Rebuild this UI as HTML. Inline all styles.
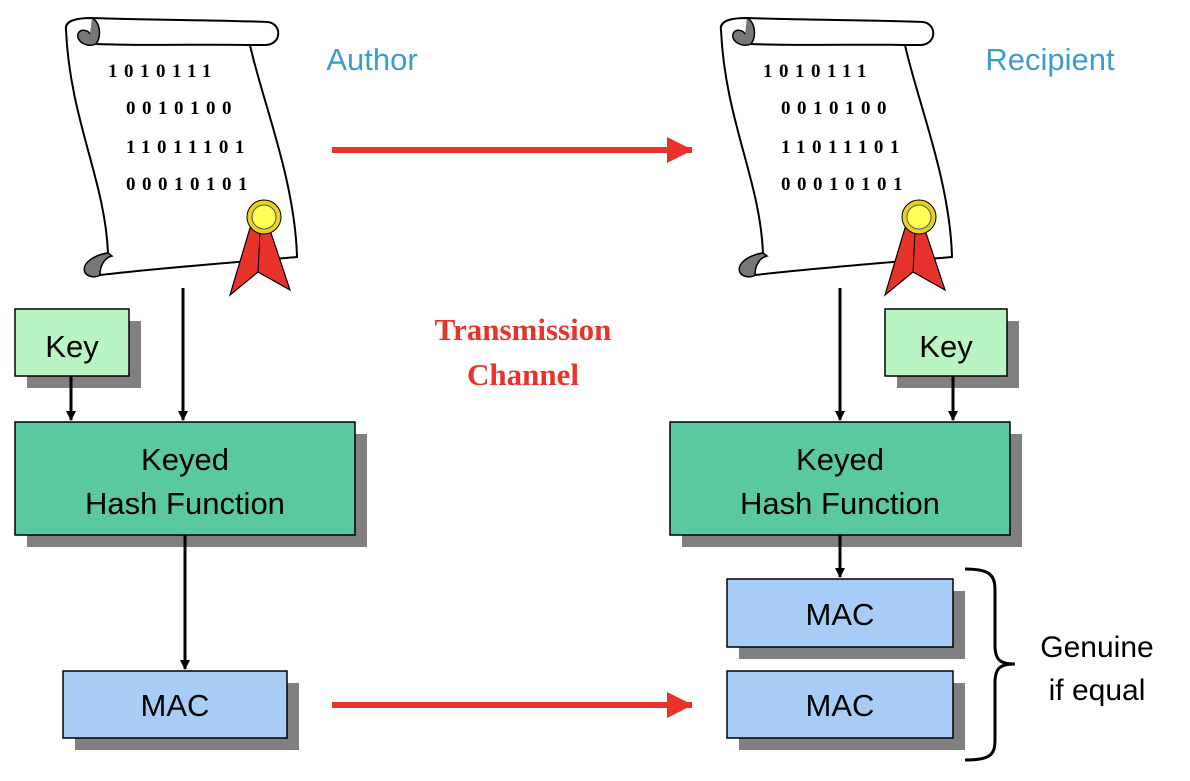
<!DOCTYPE html>
<html><head><style>
body{margin:0;width:1190px;height:776px;background:#fff;overflow:hidden;font-family:"Liberation Sans",sans-serif}
</style></head><body>
<svg width="1190" height="776" viewBox="0 0 1190 776" xmlns="http://www.w3.org/2000/svg" font-family="Liberation Sans, sans-serif">
<defs>
<g id="scroll">
<path d="M66,30 C64,20 78,18 92,18 C150,20 220,20 268,22 C282,24 282,44 266,45 L250,45 C262,100 295,180 297,257 C240,262 160,268 100,275 C80,275 82,258 108,253 C105,180 70,120 66,30 Z" fill="#fff" stroke="#000" stroke-width="2"/>
<path d="M92,18 C100,22 102,36 96,44 C88,48 76,42 78,34 C80,28 88,30 90,34" fill="#777" stroke="#000" stroke-width="1.5"/>
<path d="M96,44 C150,46 210,44 250,45" fill="none" stroke="#000" stroke-width="2"/>
<path d="M108,253 C90,256 80,266 86,274 C92,279 100,276 100,275 C100,266 104,258 112,256 Z" fill="#777" stroke="#000" stroke-width="1.5"/>
<path d="M250,228 L230,295 L258,272 L290,290 L270,230 Z" fill="#e8332a" stroke="#000" stroke-width="1.2"/>
<path d="M260,232 L258,272" stroke="#000" stroke-width="1"/>
<circle cx="264" cy="217" r="17" fill="#e6d21e" stroke="#000" stroke-width="1"/>
<circle cx="264" cy="217" r="12" fill="#ffff55" stroke="#555" stroke-width="1"/>
</g>
<marker id="ah" markerWidth="10" markerHeight="10" refX="9" refY="5" orient="auto" markerUnits="userSpaceOnUse"><path d="M0,0 L10,5 L0,10Z" fill="#000"/></marker>
<marker id="rh" markerWidth="26" markerHeight="26" refX="25" refY="13" orient="auto" markerUnits="userSpaceOnUse"><path d="M0,0 L26,13 L0,26Z" fill="#e8332a"/></marker>
</defs>
<use href="#scroll"/>
<use href="#scroll" transform="translate(655,0)"/>
<g font-weight="bold" font-size="19" letter-spacing="6.5" font-family="Liberation Serif, serif">
<text x="108" y="77">1010111</text><text x="126" y="114">0010100</text><text x="126" y="153">11011101</text><text x="126" y="190">00010101</text>
<text x="763" y="77">1010111</text><text x="781" y="114">0010100</text><text x="781" y="153">11011101</text><text x="781" y="190">00010101</text>
</g>
<g font-size="31" fill="#3d9bd0" text-anchor="middle"><text x="372" y="70">Author</text><text x="1050" y="70">Recipient</text></g>
<g font-size="31" font-weight="bold" fill="#e8332a" text-anchor="middle" font-family="Liberation Serif, serif"><text x="523" y="340">Transmission</text><text x="523" y="385">Channel</text></g>
<g font-size="30" text-anchor="middle"><text x="1097" y="657">Genuine</text><text x="1097" y="700">if equal</text></g>
<g fill="#808080">
<rect x="27" y="321" width="114" height="67"/><rect x="27" y="434" width="340" height="113"/><rect x="75" y="683" width="224" height="67"/>
<rect x="897" y="321" width="122" height="67"/><rect x="682" y="434" width="340" height="113"/><rect x="739" y="591" width="226" height="68"/><rect x="739" y="683" width="226" height="67"/>
</g>
<g stroke="#000" stroke-width="1.5">
<rect x="15" y="309" width="114" height="67" fill="#b9f5c3"/>
<rect x="885" y="309" width="122" height="67" fill="#b9f5c3"/>
<rect x="15" y="422" width="340" height="113" fill="#5ac9a0"/>
<rect x="670" y="422" width="340" height="113" fill="#5ac9a0"/>
<rect x="63" y="671" width="224" height="67" fill="#a7cdf7"/>
<rect x="727" y="579" width="226" height="68" fill="#a7cdf7"/>
<rect x="727" y="671" width="226" height="67" fill="#a7cdf7"/>
</g>
<g font-size="31" text-anchor="middle">
<text x="72" y="357">Key</text><text x="946" y="357">Key</text>
<text x="185" y="470">Keyed</text><text x="185" y="514">Hash Function</text>
<text x="840" y="470">Keyed</text><text x="840" y="514">Hash Function</text>
<text x="175" y="716">MAC</text><text x="840" y="625">MAC</text><text x="840" y="716">MAC</text>
</g>
<g stroke="#000" stroke-width="3" marker-end="url(#ah)">
<line x1="183" y1="288" x2="183" y2="420"/><line x1="71" y1="376" x2="71" y2="420"/><line x1="185" y1="535" x2="185" y2="669"/>
<line x1="840" y1="288" x2="840" y2="420"/><line x1="953" y1="376" x2="953" y2="420"/><line x1="840" y1="535" x2="840" y2="577"/>
</g>
<g stroke="#e8332a" stroke-width="6" marker-end="url(#rh)">
<line x1="332" y1="150" x2="692" y2="150"/><line x1="332" y1="705" x2="692" y2="705"/>
</g>
<path d="M965,569 C990,569 995,575 995,590 L995,645 C995,660 1000,664 1015,664 C1000,664 995,668 995,683 L995,740 C995,755 990,760 965,760" fill="none" stroke="#000" stroke-width="3"/>
</svg>
</body></html>
